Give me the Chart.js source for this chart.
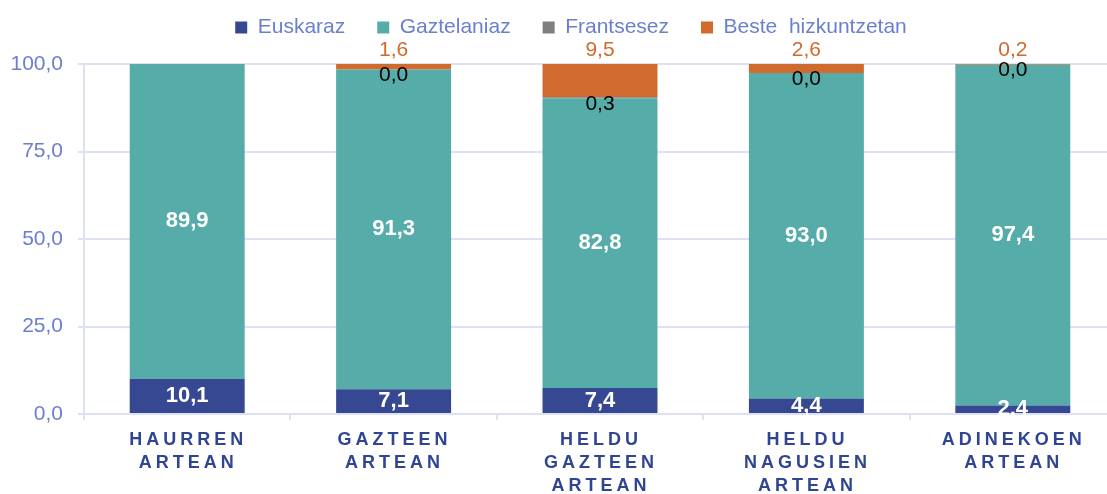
<!DOCTYPE html>
<html>
<head>
<meta charset="utf-8">
<script src="https://cdn.jsdelivr.net/npm/chart.js@4/dist/chart.umd.min.js"></script>
<style>
  html, body { margin: 0; padding: 0; background: #fff; overflow: hidden; }
  #wrap { width: 1116px; height: 494px; }
</style>
</head>
<body>
<div id="wrap"><canvas id="grafikoa"></canvas></div>
<script>
// === Datuak ===
const adinTaldeak = [
  ['HAURREN', 'ARTEAN'],
  ['GAZTEEN', 'ARTEAN'],
  ['HELDU', 'GAZTEEN', 'ARTEAN'],
  ['HELDU', 'NAGUSIEN', 'ARTEAN'],
  ['ADINEKOEN', 'ARTEAN']
];
const euskaraz = [10.1, 7.1, 7.4, 4.4, 2.4];
const gaztelaniaz = [89.9, 91.3, 82.8, 93.0, 97.4];
const frantsesez = [null, 0.0, 0.3, 0.0, 0.0];
const besteHizkuntzetan = [null, 1.6, 9.5, 2.6, 0.2];
const yTicks = [0, 25, 50, 75, 100];

const letra = "'Liberation Sans', Arial, sans-serif";
const ardatzKolorea = '#6b7fcf';
const lerroKolorea = '#dde1f3';

const koma = (v) => v.toFixed(1).replace('.', ',');

// Balioen etiketak
const etiketak = {
  id: 'etiketak',
  afterDatasetsDraw(chart) {
    const ctx = chart.ctx;
    ctx.save();
    ctx.textAlign = 'center';
    ctx.textBaseline = 'middle';
    chart.data.datasets.forEach((ds, i) => {
      const meta = chart.getDatasetMeta(i);
      meta.data.forEach((bar, j) => {
        const v = ds.data[j];
        if (v === null || v === undefined) return;
        let y;
        if (i <= 1) {
          ctx.font = 'bold 22px ' + letra;
          ctx.fillStyle = '#ffffff';
          y = (bar.y + bar.base) / 2;
        } else if (i === 2) {
          ctx.font = '21px ' + letra;
          ctx.fillStyle = '#000000';
          y = bar.base + 6;
        } else {
          ctx.font = '21px ' + letra;
          ctx.fillStyle = '#d06a2d';
          y = bar.y - 14;
        }
        ctx.fillText(koma(v), bar.x, y);
      });
    });
    ctx.restore();
  }
};

// Legenda eta x etiketen doikuntzak
const doikuntzak = {
  id: 'doikuntzak',
  beforeInit(chart) {
    const legend = chart.legend;
    if (legend) {
      const fitJatorra = legend.fit;
      legend.fit = function () {
        fitJatorra.call(this);
        this.height = 64;
      };
      const drawJatorra = legend.draw;
      legend.draw = function () {
        chart.ctx.save();
        chart.ctx.translate(13, -15);
        drawJatorra.call(this);
        chart.ctx.restore();
      };
    }
  },
  afterLayout(chart) {
    const x = chart.scales.x;
    if (x && !x._letraTartea) {
      const jatorra = x.drawLabels;
      x.drawLabels = function (area) {
        const ctx = chart.ctx;
        ctx.save();
        ctx.letterSpacing = '4px';
        ctx.translate(1, 0);
        jatorra.call(this, area);
        ctx.restore();
      };
      x._letraTartea = true;
    }
  }
};

new Chart(document.getElementById('grafikoa'), {
  type: 'bar',
  data: {
    labels: adinTaldeak,
    datasets: [
      { label: 'Euskaraz', data: euskaraz, backgroundColor: '#374893' },
      { label: 'Gaztelaniaz', data: gaztelaniaz, backgroundColor: '#55aca9' },
      { label: 'Frantsesez', data: frantsesez, backgroundColor: '#7f7f7f' },
      { label: 'Beste  hizkuntzetan', data: besteHizkuntzetan, backgroundColor: '#d06a2d' }
    ]
  },
  options: {
    responsive: true,
    maintainAspectRatio: false,
    animation: false,
    layout: { padding: 0 },
    datasets: {
      bar: { categoryPercentage: 1, barPercentage: 0.557, borderWidth: 0 }
    },
    plugins: {
      legend: {
        position: 'top',
        labels: {
          font: { family: letra, size: 21 },
          color: ardatzKolorea,
          boxWidth: 12,
          boxHeight: 12,
          padding: 32
        }
      },
      tooltip: { enabled: false }
    },
    scales: {
      x: {
        stacked: true,
        afterFit: (s) => { s.height = 80; },
        grid: { drawOnChartArea: false, drawTicks: true, tickLength: 6, color: lerroKolorea, lineWidth: 2 },
        border: { display: true, color: lerroKolorea, width: 2 },
        ticks: {
          font: { family: letra, size: 18, weight: 'bold', lineHeight: '23px' },
          color: '#2f4593',
          padding: 9,
          maxRotation: 0,
          autoSkip: false
        }
      },
      y: {
        stacked: true,
        min: 0,
        max: 100,
        afterFit: (s) => { s.width = 84; },
        afterBuildTicks: (s) => { s.ticks = yTicks.map(v => ({ value: v })); },
        grid: { color: lerroKolorea, lineWidth: 2, tickLength: 6 },
        border: { display: true, color: lerroKolorea, width: 2 },
        ticks: {
          font: { family: letra, size: 21 },
          color: ardatzKolorea,
          padding: 15,
          callback: (v) => koma(v)
        }
      }
    }
  },
  plugins: [etiketak, doikuntzak]
});
</script>
</body>
</html>
